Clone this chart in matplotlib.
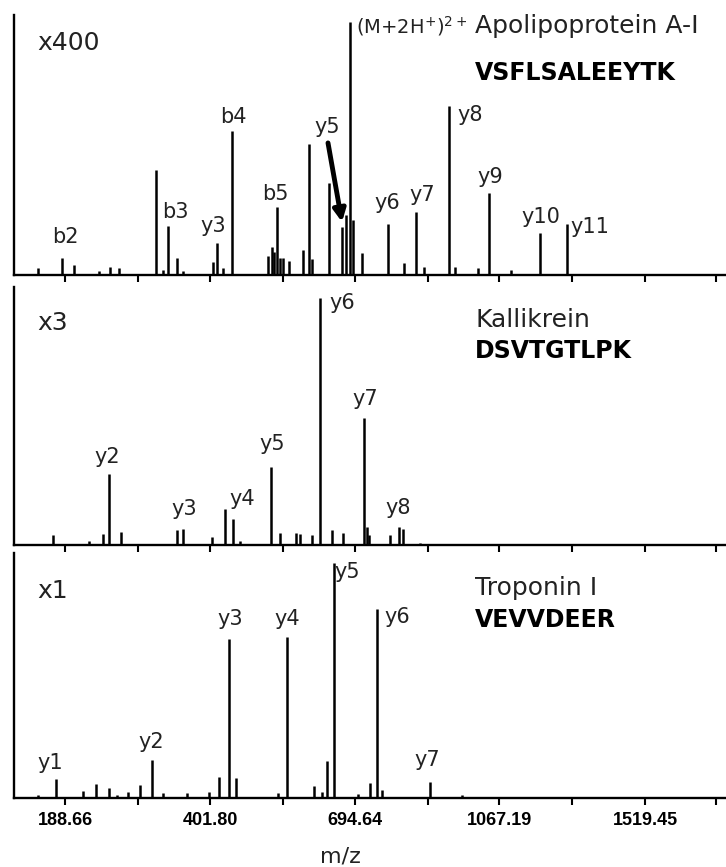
import matplotlib.pyplot as plt

# x = acquisition channel (nonlinear in m/z), y = relative intensity in %
tick_pos = [65, 138, 210, 283, 355, 428, 499, 572, 645, 716]
tick_lab = ["188.66", "", "401.80", "", "694.64", "", "1067.19", "", "1519.45", ""]

# Apolipoprotein A-I, VSFLSALEEYTK (x400)
apo_x = [38, 62, 74, 99, 110, 119, 156, 163, 168, 177, 183, 213, 217, 223, 232,
         268, 272, 274, 277, 280, 283, 289, 303, 309, 312, 329, 342, 346, 350,
         353, 362, 388, 404, 416, 424, 449, 455, 478, 489, 511, 540, 567]
apo_y = [2.7, 6.5, 3.8, 1.5, 3.1, 2.7, 40.4, 1.9, 18.8, 6.5, 1.5, 5.0, 12.3, 2.7, 55.4,
         7.3, 10.8, 8.8, 26.2, 6.5, 6.5, 5.4, 9.6, 50.4, 6.2, 35.4, 18.5, 23.0, 97.3,
         21.0, 8.5, 19.6, 4.6, 24.2, 3.1, 65.0, 3.1, 2.7, 31.5, 1.9, 16.2, 19.6]
apo_lab = [("b2", 65, 14.6), ("b3", 175, 24.2), ("y3", 213, 18.8), ("b4", 233, 60.8),
           ("b5", 275, 31.2), ("y5", 327, 56.9), ("y6", 387, 27.7), ("y7", 422, 30.8),
           ("y8", 470, 61.5), ("y9", 490, 37.7), ("y10", 541, 22.3), ("y11", 590, 18.5)]

# Kallikrein, DSVTGTLPK (x3)
kal_x = [53, 89, 103, 109, 121, 177, 183, 212, 225, 233, 240, 271, 280, 296, 300,
         312, 320, 332, 343, 364, 367, 369, 390, 399, 403, 420]
kal_y = [3.9, 1.5, 4.3, 27.5, 5.0, 5.8, 6.2, 3.1, 14.0, 10.0, 1.6, 30.2, 4.7, 4.7, 4.3,
         3.9, 95.7, 5.8, 4.7, 49.2, 7.0, 3.9, 3.9, 7.0, 6.2, 0.8]
kal_lab = [("y2", 107, 34.1), ("y3", 184, 14.0), ("y4", 242, 17.8), ("y5", 272, 39.1),
           ("y6", 342, 93.8), ("y7", 365, 56.6), ("y8", 398, 14.3)]

# Troponin I, VEVVDEER (x1)
tro_x = [38, 56, 83, 96, 109, 117, 128, 140, 152, 163, 187, 209, 219, 229, 236,
         278, 287, 314, 322, 327, 334, 358, 370, 377, 382, 430, 462]
tro_y = [1.2, 7.8, 2.9, 5.7, 4.1, 1.2, 2.4, 5.3, 15.5, 2.0, 2.0, 2.4, 8.6, 64.9, 8.2,
         2.0, 65.7, 4.9, 2.4, 15.1, 95.9, 1.6, 6.1, 77.1, 3.3, 6.5, 1.2]
tro_lab = [("y1", 50, 14.3), ("y2", 151, 22.9), ("y3", 230, 73.1), ("y4", 287, 73.1),
           ("y5", 347, 92.2), ("y6", 397, 73.9), ("y7", 427, 15.5)]

panels = [
    (apo_x, apo_y, apo_lab, "x400", "Apolipoprotein A-I", "VSFLSALEEYTK",
     [0.6828, 0.2999], 89.2, 93.1, 75.0),
    (kal_x, kal_y, kal_lab, "x3", "Kallikrein", "DSVTGTLPK",
     [0.3714, 0.2976], 86.0, 84.5, 72.5),
    (tro_x, tro_y, tro_lab, "x1", "Troponin I", "VEVVDEER",
     [0.0796, 0.2826], 84.5, 82.9, 69.8),
]

txt = "#222222"
fig = plt.figure(figsize=(7.26, 8.67), dpi=100)

axes = []
for i, (xs, ys, labs, scale, prot, pep, box, ys_y, pr_y, pe_y) in enumerate(panels):
    ax = fig.add_axes([14 / 726, box[0], 712 / 726, box[1]])
    ax.vlines(xs, 0, ys, color="black", lw=1.8)
    ax.set_xlim(14, 726)
    ax.set_ylim(0, 100)
    for s in ["top", "right"]:
        ax.spines[s].set_visible(False)
    for s in ["left", "bottom"]:
        ax.spines[s].set_linewidth(1.7)
    ax.set_yticks([])
    ax.set_xticks(tick_pos)
    ax.tick_params(axis="x", direction="out", length=5, width=1.5, pad=5)
    if i == 2:
        ax.set_xticklabels(tick_lab, fontsize=13, fontweight="bold",
                           family="Liberation Sans")
    else:
        ax.set_xticklabels([])
    for t, x, y in labs:
        ax.text(x, y, t, ha="center", va="center", fontsize=15, color=txt)
    ax.text(37, ys_y, scale, ha="left", va="center", fontsize=18, color=txt)
    ax.text(475, pr_y, prot, ha="left", va="baseline", fontsize=18, color=txt)
    ax.text(475, pe_y, pep, ha="left", va="baseline", fontsize=17,
            fontweight="bold", color="black")
    axes.append(ax)

ax1 = axes[0]
ax1.text(356, 93.1, r"(M+2H$^{+}$)$^{2+}$", ha="left", va="baseline",
         fontsize=14, color=txt)
ax1.annotate("", xy=(342, 20.4), xytext=(328, 50.8),
             arrowprops=dict(arrowstyle="-|>", lw=3.5, color="black",
                             mutation_scale=18, shrinkA=0, shrinkB=0))

fig.text(340 / 726, 1 - 856 / 867, "m/z", ha="center", va="center",
         fontsize=16, color=txt)

fig.savefig("out.png", dpi=100)
